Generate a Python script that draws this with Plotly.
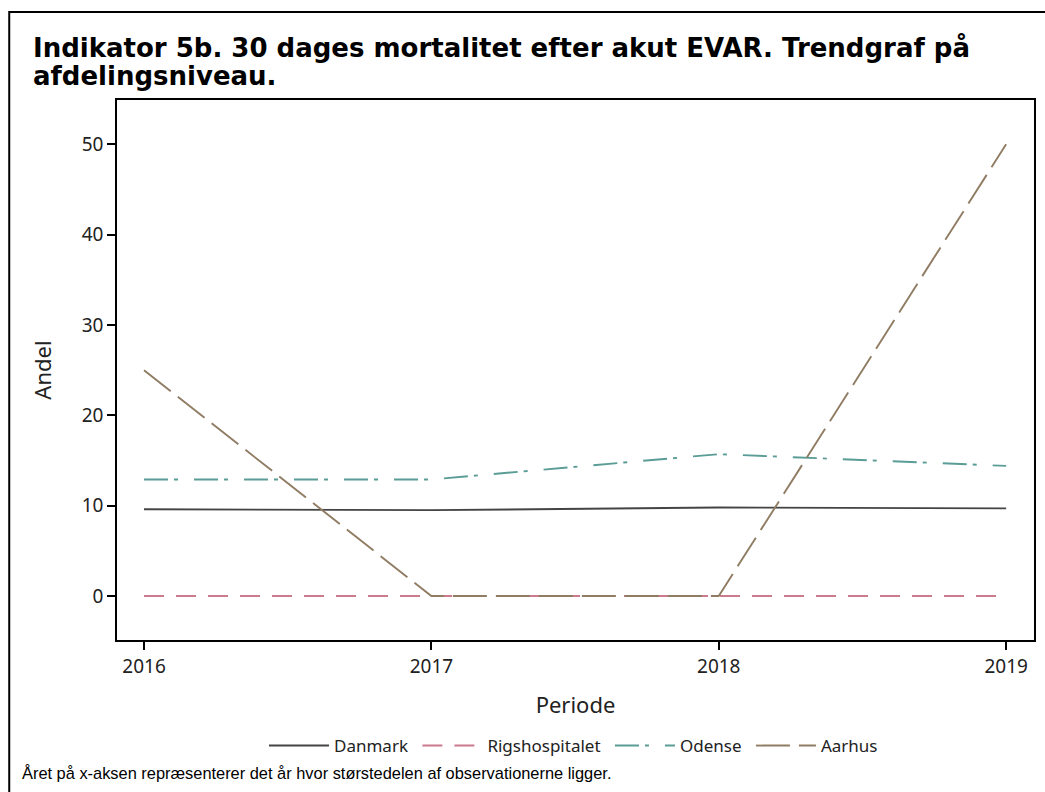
import plotly.graph_objects as go

years = [2016, 2017, 2018, 2019]
danmark = [9.6, 9.5, 9.8, 9.7]
rigshospitalet = [0, 0, 0, 0]
odense = [12.9, 12.9, 15.7, 14.4]
aarhus = [25, 0, 0, 50]

series = [
    ("Danmark", danmark, "#444444", "solid"),
    ("Rigshospitalet", rigshospitalet, "#cc7a8d", "20px,12px"),
    ("Odense", odense, "#5a9c96", "24px,6px,4px,16px"),
    ("Aarhus", aarhus, "#8f7c63", "34px,9px"),
]

W, H = 1045, 792
L, R, T, B = 117, 9, 100, 152
pw, ph = W - L - R, H - T - B

def px(x):
    return (x - L) / pw

def py(y):
    return (H - B - y) / ph

fig = go.Figure()
for name, vals, color, dash in series:
    fig.add_trace(go.Scatter(x=years, y=vals, mode="lines", name=name + "\u00a0",
                             line=dict(color=color, width=1.9, dash=dash)))

fig.update_layout(
    width=W, height=H,
    margin=dict(l=L, r=R, t=T, b=B),
    paper_bgcolor="white", plot_bgcolor="white",
    font=dict(family="Noto Sans, Open Sans, sans-serif", color="#222"),
    showlegend=True,
    legend=dict(orientation="h", x=0.5, xanchor="center", y=py(746), yanchor="middle",
                font=dict(size=17, family="Noto Sans"), itemwidth=60, tracegroupgap=0),
    xaxis=dict(range=[2015.906, 2019.097], tickvals=years, ticktext=[str(y) for y in years],
               ticks="outside", ticklen=8, tickwidth=1.5, tickcolor="black",
               showline=True, linecolor="black", linewidth=1.5, mirror=True,
               showgrid=False, zeroline=False, tickfont=dict(size=19),
               title=dict(text="Periode", font=dict(size=22), standoff=20)),
    yaxis=dict(range=[-4.87, 54.9], tickvals=[0, 10, 20, 30, 40, 50],
               ticks="outside", ticklen=8, tickwidth=1.5, tickcolor="black",
               showline=True, linecolor="black", linewidth=1.5, mirror=True,
               showgrid=False, zeroline=False, tickfont=dict(size=19),
               title=dict(text="Andel", font=dict(size=22), standoff=24)),
)

fig.add_annotation(
    text="<b>Indikator 5b. 30 dages mortalitet efter akut EVAR. Trendgraf på</b>",
    xref="paper", yref="paper", x=px(31), y=py(47), xanchor="left", yanchor="middle",
    align="left", showarrow=False,
    font=dict(family="DejaVu Sans", size=26, color="black"))
fig.add_annotation(
    text="<b>afdelingsniveau.</b>",
    xref="paper", yref="paper", x=px(31), y=py(76), xanchor="left", yanchor="middle",
    align="left", showarrow=False,
    font=dict(family="DejaVu Sans", size=26, color="black"))

fig.add_annotation(
    text="Året på x-aksen repræsenterer det år hvor størstedelen af observationerne ligger.",
    xref="paper", yref="paper", x=px(20), y=py(773), xanchor="left", yanchor="middle",
    showarrow=False, font=dict(family="Liberation Sans, Arial", size=16.4, color="black"))

fig.add_shape(type="rect", xref="paper", yref="paper",
              x0=px(9), x1=px(1060), y0=py(12), y1=py(810),
              line=dict(color="black", width=2), layer="above")

fig.write_html("out.html", config={"displayModeBar": False},
               post_script="document.body.style.margin='0';document.body.style.overflow='hidden';")
